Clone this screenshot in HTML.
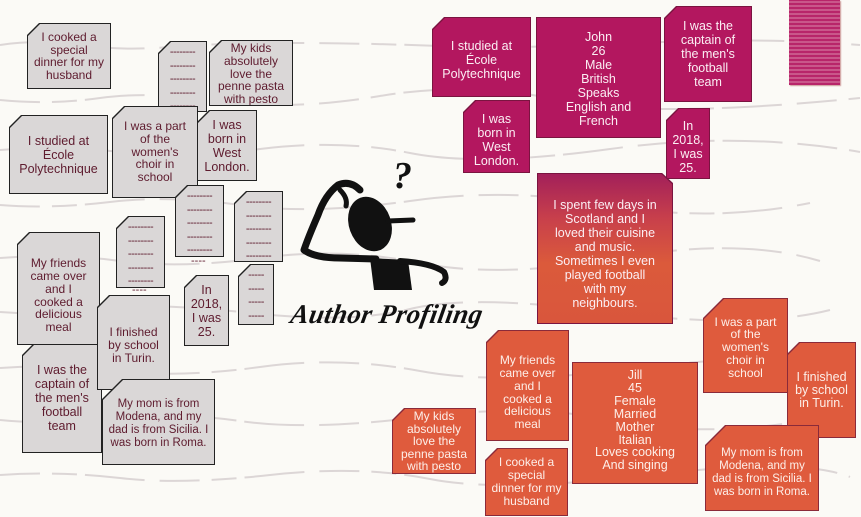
<!DOCTYPE html>
<html><head><meta charset="utf-8">
<style>
html,body{margin:0;padding:0}
body{width:861px;height:517px;position:relative;overflow:hidden;background:#fbfaf6;font-family:"Liberation Sans",sans-serif}
.c{position:absolute;background:#222;clip-path:var(--cp)}
.c>div{position:absolute;left:1px;top:1px;right:1px;bottom:1px;clip-path:var(--cp);display:flex;align-items:center;justify-content:center;text-align:center;font-size:11px;line-height:12.6px;box-sizing:border-box;padding:0;white-space:nowrap}
.g>div{background:#dad7d7;color:#5e1b2e}
.m{background:#7a1440}.m>div{background:#b3175f;color:#fbeef3}
.o{background:#8a2a3a}.o>div{background:#df5b3d;color:#fdeee8}
.cut{--cp:polygon(12px 0,100% 0,100% 100%,0 100%,0 12px)}
.cut2{--cp:polygon(20px 0,100% 0,100% 100%,0 100%,0 20px)}
.d>div{letter-spacing:-0.5px;font-size:11px;line-height:13.5px;align-items:flex-start;padding-top:4px}
</style></head>
<body>
<svg width="861" height="517" style="position:absolute;left:0;top:0">
<g stroke="#dcd6d6" stroke-width="2" fill="none" stroke-dasharray="40 12 25 8 60 15">
<path d="M0 45 q40 -6 80 0 t90 2 t120 -4 t150 3 t200 -3 t220 2"/>
<path d="M0 100 q50 5 100 -2 t120 3 t160 -5 t180 4 t300 -2"/>
<path d="M0 150 q60 -5 120 2 t140 -3 t150 4 t200 -4 t250 3"/>
<path d="M0 205 q50 4 110 -3 t130 3 t170 -4 t200 4 t200 -2"/>
<path d="M0 258 q60 -5 120 3 t140 -3 t160 5 t200 -5 t200 3"/>
<path d="M0 312 q50 4 100 -3 t150 4 t160 -4 t200 3 t220 -2"/>
<path d="M0 368 q60 -4 120 3 t140 -4 t160 4 t220 -3 t200 2"/>
<path d="M0 420 q50 5 110 -2 t130 3 t180 -4 t200 4 t200 -3"/>
<path d="M0 475 q60 -4 120 3 t150 -3 t160 4 t220 -4 t200 2"/>
</g></svg>

<div class="c g cut" style="left:27px;top:23px;width:84px;height:66px"><div style="font-size:12px;line-height:12.5px">I cooked a<br>special<br>dinner for my<br>husband</div></div>
<div class="c g cut d" style="left:158px;top:41px;width:49px;height:71px"><div>--------<br>--------<br>--------<br>--------<br>--------</div></div>
<div class="c g cut" style="left:209px;top:40px;width:84px;height:66px"><div style="font-size:12px;line-height:12.8px;align-items:flex-start;padding-top:1px">My kids<br>absolutely<br>love the<br>penne pasta<br>with pesto<br>sauce</div></div>
<div class="c g cut" style="left:9px;top:115px;width:99px;height:79px"><div style="font-size:12.5px;line-height:14px">I studied at<br>École<br>Polytechnique</div></div>
<div class="c g cut" style="left:197px;top:110px;width:60px;height:71px"><div style="font-size:12.5px;line-height:14px">I was<br>born in<br>West<br>London.</div></div>
<div class="c g cut" style="left:112px;top:106px;width:86px;height:92px"><div style="font-size:12px;line-height:12.8px">I was a part<br>of the<br>women's<br>choir in<br>school</div></div>
<div class="c g cut d" style="left:175px;top:185px;width:49px;height:72px"><div>--------<br>--------<br>--------<br>--------<br>--------</div></div>
<div style="position:absolute;left:191px;top:255px;font-size:11px;color:#5e1b2e">----</div>
<div class="c g cut d" style="left:234px;top:191px;width:49px;height:71px"><div>--------<br>--------<br>--------<br>--------<br>--------</div></div>
<div class="c g cut d" style="left:116px;top:216px;width:49px;height:72px"><div>--------<br>--------<br>--------<br>--------<br>--------</div></div>
<div style="position:absolute;left:132px;top:284px;font-size:11px;color:#5e1b2e">----</div>
<div class="c g cut" style="left:184px;top:275px;width:45px;height:71px"><div style="font-size:12.5px;line-height:14px">In<br>2018,<br>I was<br>25.</div></div>
<div class="c g cut d" style="left:238px;top:264px;width:36px;height:61px"><div>-----<br>-----<br>-----<br>-----</div></div>
<div class="c g cut" style="left:22px;top:343px;width:80px;height:110px"><div style="font-size:12.5px;line-height:14px">I was the<br>captain of<br>the men's<br>football<br>team</div></div>
<div class="c g cut" style="left:17px;top:232px;width:83px;height:113px"><div style="font-size:12px;line-height:12.8px;padding-top:14px">My friends<br>came over<br>and I<br>cooked a<br>delicious<br>meal</div></div>
<div class="c g cut" style="left:97px;top:295px;width:73px;height:95px"><div style="font-size:12px;line-height:13px;padding-top:6px">I finished<br>by school<br>in Turin.</div></div>
<div class="c g cut2" style="left:102px;top:379px;width:113px;height:86px"><div style="font-size:11.5px;line-height:12.8px;padding-top:4px">My mom is from<br>Modena, and my<br>dad is from Sicilia. I<br>was born in Roma.</div></div>

<svg width="861" height="517" style="position:absolute;left:0;top:0">
<g fill="#111" stroke="#111" stroke-linecap="round" stroke-linejoin="round">
<text x="393" y="188" font-size="38" font-family="Liberation Serif" font-style="italic" font-weight="bold" fill="#111" stroke="none">?</text>
<ellipse cx="370" cy="224" rx="21" ry="28" transform="rotate(-20 370 224)" stroke="none"/>
<path d="M388 221 L413 220" stroke-width="5"/>
<path d="M360 190 Q350 180 338 185 Q325 195 318 215 Q308 238 304 250 Q315 258 340 258 L376 259" stroke-width="7" fill="none"/>
<path d="M340 190 Q348 198 346 206" stroke-width="5" fill="none"/>
<path d="M370 258 L408 260 L412 290 L374 290 Z" stroke="none"/>
<path d="M400 261 Q432 263 444 272 Q448 280 442 283" stroke-width="6" fill="none"/>
</g></svg>
<div style="position:absolute;left:291px;top:299px;font-family:'Liberation Serif',serif;font-style:italic;font-weight:bold;font-size:27px;color:#111;letter-spacing:0.3px;transform:skewX(-10deg)">Author Profiling</div>

<div class="c m cut" style="left:432px;top:17px;width:99px;height:80px"><div style="font-size:12.5px;line-height:14px;padding-top:6px">I studied at<br>École<br>Polytechnique</div></div>
<div class="c m" style="left:536px;top:17px;width:125px;height:121px"><div style="font-size:12.5px;line-height:14px;align-items:flex-start;padding-top:12px">John<br>26<br>Male<br>British<br>Speaks<br>English and<br>French</div></div>
<div class="c m cut" style="left:664px;top:6px;width:88px;height:96px"><div style="font-size:12.5px;line-height:14px">I was the<br>captain of<br>the men's<br>football<br>team</div></div>
<div class="c m cut" style="left:463px;top:100px;width:67px;height:73px"><div style="font-size:12.5px;line-height:14px;padding-top:6px">I was<br>born in<br>West<br>London.</div></div>
<div class="c m cut" style="left:666px;top:108px;width:44px;height:71px"><div style="font-size:12.5px;line-height:14px;padding-top:6px">In<br>2018,<br>I was<br>25.</div></div>
<div style="position:absolute;left:789px;top:0;width:51px;height:85px;background:repeating-linear-gradient(0deg,#b8256a 0 2px,#c9578a 2px 4px);box-shadow:1px 1px 1px #c99"></div>
<div class="c m" style="left:537px;top:173px;width:136px;height:151px;--cp:polygon(0 0,92% 0,100% 10px,100% 100%,0 100%)"><div style="background:linear-gradient(180deg,#a3205a 0%,#c8404b 30%,#db5a3b 60%,#d9563c 100%);font-size:12.5px;line-height:14px;align-items:flex-start;padding-top:24px">I spent few days in<br>Scotland and I<br>loved their cuisine<br>and music.<br>Sometimes I even<br>played football<br>with my<br>neighbours.</div></div>

<div class="c o cut" style="left:486px;top:330px;width:83px;height:111px"><div style="font-size:12px;line-height:12.8px;padding-top:14px">My friends<br>came over<br>and I<br>cooked a<br>delicious<br>meal</div></div>
<div class="c o" style="left:572px;top:362px;width:126px;height:122px"><div style="font-size:12.5px;line-height:12.9px;align-items:flex-start;padding-top:6px">Jill<br>45<br>Female<br>Married<br>Mother<br>Italian<br>Loves cooking<br>And singing</div></div>
<div class="c o cut" style="left:392px;top:408px;width:84px;height:66px"><div style="font-size:12px;line-height:12.5px;align-items:flex-start;padding-top:1px">My kids<br>absolutely<br>love the<br>penne pasta<br>with pesto</div></div>
<div class="c o cut" style="left:485px;top:448px;width:83px;height:68px"><div style="font-size:12px;line-height:12.8px">I cooked a<br>special<br>dinner for my<br>husband</div></div>
<div class="c o cut2" style="left:703px;top:298px;width:85px;height:95px"><div style="font-size:12px;line-height:12.8px;padding-top:4px">I was a part<br>of the<br>women's<br>choir in<br>school</div></div>
<div class="c o cut" style="left:787px;top:342px;width:69px;height:96px"><div style="font-size:12.5px;line-height:13px">I finished<br>by school<br>in Turin.</div></div>
<div class="c o cut2" style="left:705px;top:425px;width:114px;height:86px"><div style="font-size:11.5px;line-height:12.8px;padding-top:10px">My mom is from<br>Modena, and my<br>dad is from Sicilia. I<br>was born in Roma.</div></div>
</body></html>
